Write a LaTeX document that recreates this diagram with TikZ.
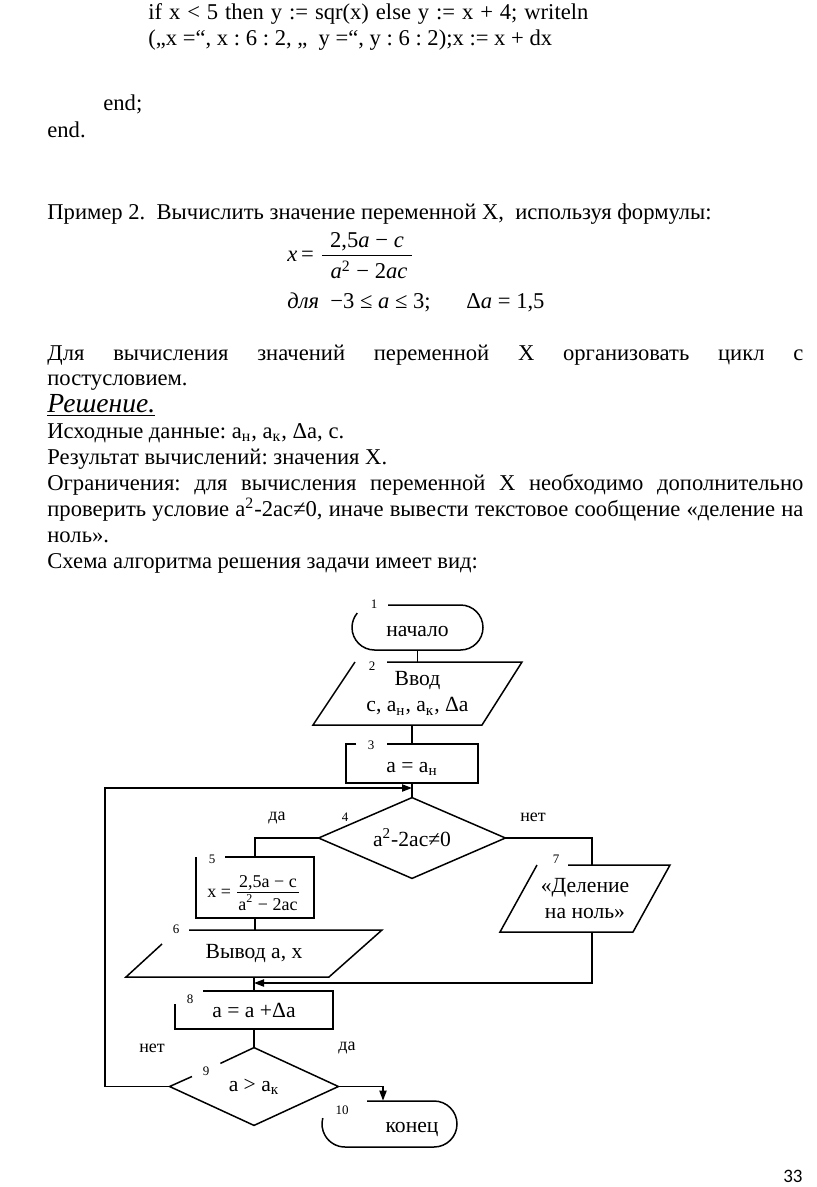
\documentclass[tikz,border=0pt]{standalone}
\usepackage{fontspec}
\setmainfont{Liberation Serif}
\newfontfamily\numfont{Carlito}
\usetikzlibrary{arrows.meta}
\newcommand\bodysz{\fontsize{11.3}{13}\selectfont}
\newcommand\shsz{\fontsize{10.8}{13}\selectfont}
\newcommand\lblsz{\fontsize{9}{10}\selectfont}
\newcommand\frsz{\fontsize{9}{10}\selectfont}
\newcommand\numsz{\fontsize{6.5}{7}\selectfont}
\frenchspacing
\begin{document}
\begin{tikzpicture}[x=0.5pt,y=-0.5pt,
  txt/.style={anchor=base west, inner sep=0pt, font=\bodysz},
  fl/.style={line width=0.75pt},
  box/.style={inner sep=0pt, font=\shsz, align=center},
  low/.style={text height=0.9em, text depth=0.05em},
  num/.style={inner sep=0pt, font=\numsz},
  lbl/.style={inner sep=0pt, font=\lblsz},
  arr/.style={fl, -{Triangle[length=5pt,width=3.6pt]}}]
\useasboundingbox (0,0) rectangle (816,1187);
\fill[white] (0,0) rectangle (816,1187);

% ---- text of the page ----
\node[txt] (c1) at (148,20) {\makebox[220pt][s]{if x < 5 then y := sqr(x) else y := x + 4; writeln}};
\node[txt] (c2) at (148,46) {(„x =“, x : 6 : 2, „\ \ y =“, y : 6 : 2);x := x + dx};
\node[txt] (e1) at (103,111) {end;};
\node[txt] (e2) at (47,138) {end.};
\node[txt] (pr) at (47,220) {Пример 2.\ \ Вычислить значение переменной X,\ \ используя формулы:};

\node[txt] (fx) at (287,262) {\textit{x}\,=};
\draw[line width=0.5pt] (322,256) -- (412,256);
\node[txt, anchor=base] (fn) at (367,248) {2,5\textit{a} − \textit{c}};
\node[txt, anchor=base] (fd) at (369,279) {\textit{a}\textsuperscript{2} − 2\textit{ac}};
\node[txt] (dl) at (287,309) {\textit{для}};
\node[txt] (ineq) at (330,309) {−3 ≤ \textit{a} ≤ 3;};
\node[txt] (dda) at (466,309) {Δ\textit{a} = 1,5};

\node[txt] (l1) at (47,360) {\makebox[378pt][s]{Для вычисления значений переменной X организовать цикл с}};
\node[txt] (l2) at (47,386) {постусловием.};
\node[txt, font=\fontsize{13.8}{15}\selectfont] (l3) at (47,412) {\underline{\textit{Решение.}}};
\node[txt] (l4) at (47,438) {Исходные данные: a\textsubscript{н}, a\textsubscript{к}, Δa, c.};
\node[txt] (l5) at (47,464) {Результат вычислений: значения X.};
\node[txt] (l6) at (47,490) {\makebox[378pt][s]{Ограничения: для вычисления переменной X необходимо дополнительно}};
\node[txt] (l7) at (47,516) {\makebox[378pt][s]{проверить условие a\textsuperscript{2}-2ac≠0, иначе вывести текстовое сообщение «деление на}};
\node[txt] (l8) at (47,542) {ноль».};
\node[txt] (l9) at (47,568) {Схема алгоритма решения задачи имеет вид:};

% ---- flowchart blocks ----
\node[box, low, minimum width=65.5pt, minimum height=22.5pt] (t1) at (417.5,627.5) {начало};
\draw[fl] (388,605) -- (460.5,605) arc[start angle=-90,end angle=90,radius=22.5]
  -- (374.5,650) arc[start angle=90,end angle=220,radius=22.5];
\node[num] (n1) at (374,604) {1};

\node[box, minimum width=104.5pt, minimum height=31.5pt] (p2) at (417.5,693.5) {Ввод\\c, a\textsubscript{н}, a\textsubscript{к}, Δa};
\draw[fl] (387,662) -- (522,662) -- (482,725) -- (313,725) -- (355,662);
\node[num] (n2) at (372,666) {2};

\node[box, text height=1em, text depth=0.1em, minimum width=66pt, minimum height=19.5pt] (r3) at (412,763.5) {a = a\textsubscript{н}};
\draw[fl] (356,744) -- (346,744) -- (346,783) -- (478,783) -- (478,744) -- (387,744);
\node[num] (n3) at (371,745) {3};

\node[box, minimum width=93pt, minimum height=40pt] (d4) at (412,838) {a\textsuperscript{2}-2ac≠0};
\draw[fl] (d4.north) -- (d4.east) -- (d4.south) -- (d4.west) -- cycle;
\node[num] (n4) at (345,817) {4};
\node[lbl] (y4) at (277,818) {да};
\node[lbl] (no4) at (533,817) {нет};

\node[box, minimum width=59pt, minimum height=30.5pt] (r5) at (255,887.5) {};
\draw[fl] (225,857) -- (314,857) -- (314,918) -- (196,918) -- (196,857);
\node[num] (n5) at (212,859) {5};
\node[inner sep=0pt, font=\frsz, anchor=base west] (r5x) at (207,897) {x =};
\draw[line width=0.45pt] (237,892) -- (299,892);
\node[inner sep=0pt, font=\frsz, anchor=base] (r5n) at (268,887) {2,5a − c};
\node[inner sep=0pt, font=\frsz, anchor=base] (r5d) at (268,910) {a\textsuperscript{\fontsize{6}{7}\selectfont 2} − 2ac};

\node[box, minimum width=128pt, minimum height=23.5pt] (p6) at (254,953.5) {Вывод a, x};
\draw[fl] (189,930) -- (382,930) -- (329,977) -- (126,977) -- (162,944);
\node[num] (n6) at (176,929) {6};

\node[box, minimum width=85pt, minimum height=33.5pt] (p7) at (585,898.5) {«Деление\\на ноль»};
\draw[fl] (568,865) -- (670,865) -- (633,932) -- (500,932) -- (537,865);
\node[num] (n7) at (556,859) {7};

\node[box, minimum width=79pt, minimum height=19pt] (r8) at (254,1010) {a = a +Δa};
\draw[fl] (203,991) -- (333,991) -- (333,1029) -- (175,1029) -- (175,1004);
\node[num] (n8) at (190,999) {8};

\node[box, minimum width=84pt, minimum height=38.5pt] (d9) at (254,1086.5) {a > a\textsubscript{к}};
\draw[fl] (192,1076.5) -- (d9.west) -- (d9.south) -- (d9.east) -- (d9.north) -- (220.4,1063.4);
\node[num] (n9) at (206,1071) {9};
\node[lbl] (no9) at (152,1048) {нет};
\node[lbl] (y9) at (347,1048) {да};

\node[box, minimum width=67.5pt, minimum height=23pt] (t10) at (389.5,1124) {};
\draw[fl] (367,1101) -- (434,1101) arc[start angle=-90,end angle=90,radius=23]
  -- (345,1147) arc[start angle=90,end angle=195,radius=23];
\node[box, low] (k10) at (412,1124) {конец};
\node[num] (n10) at (342,1110) {10};

% ---- connectors ----
\coordinate (j1) at (412,788);
\coordinate (lx) at (105,0);
\coordinate (c7) at (592,0);
\coordinate (j2) at (254,983);
\coordinate (c10) at (383,0);
\draw[fl] (t1.south) -- (p2.north);
\draw[fl] (r3.north |- p2.south) -- (r3.north);
\draw[fl] (r3.south) -- (d4.north);
\draw[arr] (d9.west) -| (lx |- j1) -- (j1);
\draw[fl] (d4.west) -| (r5.north);
\draw[fl] (d4.east) -| (c7 |- p7.north);
\draw[fl] (r5.south) -- (r5.south |- p6.north);
\draw[fl] (p6.south) -- (r8.north);
\draw[arr] (c7 |- p7.south) |- (j2);
\draw[fl] (r8.south) -- (d9.north);
\draw[arr] (d9.east) -| (c10 |- t10.north);

\node[anchor=base east, inner sep=0pt, font=\numfont\fontsize{9.5}{11}\selectfont] (pg) at (803,1182) {33};
\end{tikzpicture}
\end{document}
